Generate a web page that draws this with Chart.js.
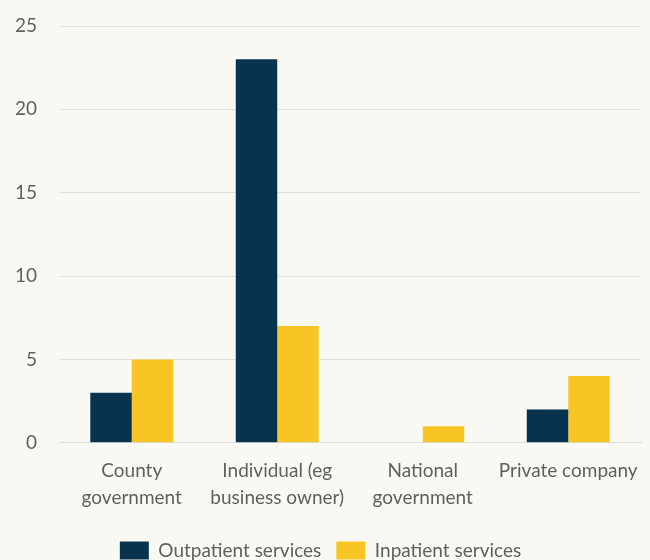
<!DOCTYPE html>
<html>
<head>
<meta charset="utf-8">
<script src="https://cdn.jsdelivr.net/npm/chart.js@4/dist/chart.umd.min.js"></script>
<style>
  html, body { margin: 0; padding: 0; background: #f9f9f4; }
  #wrap { width: 650px; height: 560px; position: relative; }
</style>
</head>
<body>
<div id="wrap"><canvas id="c"></canvas></div>
<script>
// Who owns the facility, by type of service
const categories = [["County", "government"], ["Individual (eg", "business owner)"], ["National", "government"], ["Private company"]];
const outpatient = [3, 23, 0, 2];
const inpatient = [5, 7, 1, 4];
const yTicks = [0, 5, 10, 15, 20, 25];

const textColor = "#5f5f5f";
const fontFamily = "Lato, 'Open Sans', sans-serif";

new Chart(document.getElementById("c"), {
  type: "bar",
  data: {
    labels: categories,
    datasets: [
      { label: "Outpatient services", data: outpatient, backgroundColor: "#08334f", borderWidth: 0 },
      { label: "Inpatient services", data: inpatient, backgroundColor: "#f9c524", borderWidth: 0 }
    ]
  },
  options: {
    responsive: true,
    maintainAspectRatio: false,
    animation: false,
    layout: { padding: { top: 26, right: 9, left: 0, bottom: -10 } },
    datasets: { bar: { categoryPercentage: 0.57, barPercentage: 1.0 } },
    scales: {
      x: {
        afterFit: (axis) => { axis.height += 8; },
        grid: { display: false },
        border: { display: true, color: "#dcdcdc", width: 1 },
        ticks: { color: textColor, font: { family: fontFamily, size: 19, lineHeight: 1.4 }, padding: 7, maxRotation: 0, autoSkip: false }
      },
      y: {
        min: 0, max: 25,
        afterBuildTicks: (axis) => { axis.ticks = yTicks.map(v => ({ value: v })); },
        afterFit: (axis) => { axis.width = 59; axis.paddingTop = 0; axis.paddingBottom = 0; },
        grid: { color: "#e0e0dc", drawTicks: false, lineWidth: 1 },
        border: { display: false },
        ticks: { color: textColor, font: { family: fontFamily, size: 19 }, padding: 22 }
      }
    },
    plugins: {
      legend: {
        position: "bottom",
        labels: { color: textColor, font: { family: fontFamily, size: 19 }, boxWidth: 29, boxHeight: 18, padding: 15 }
      },
      tooltip: { enabled: false }
    }
  }
});
</script>
</body>
</html>
